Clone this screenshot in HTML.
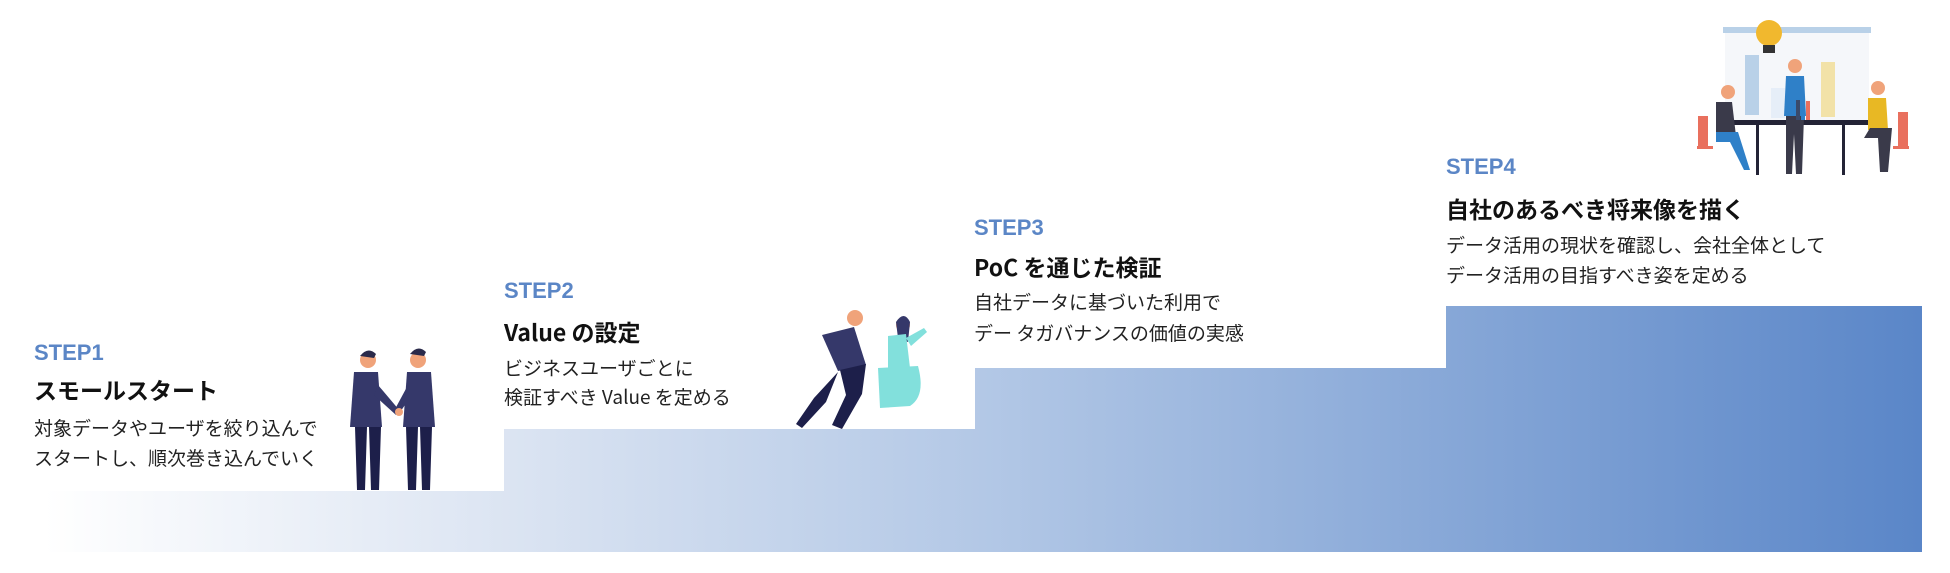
<!DOCTYPE html>
<html><head><meta charset="utf-8">
<style>
html,body{margin:0;padding:0;background:#fff}
#c{position:relative;width:1950px;height:573px;overflow:hidden;font-family:"Noto Sans CJK JP","Liberation Sans",sans-serif}
.t{position:absolute;white-space:nowrap}
.s{color:#5b86c6;font-weight:bold;font-size:22px;line-height:26px;font-family:"Liberation Sans",sans-serif}
.h{color:#111;font-weight:bold;font-size:23px;line-height:28px}
.b{color:#222;font-size:19px;line-height:30px}
</style></head><body><div id="c">
<svg width="1950" height="573" style="position:absolute;left:0;top:0">
<defs><linearGradient id="g" x1="44" y1="0" x2="1922" y2="0" gradientUnits="userSpaceOnUse">
<stop offset="0" stop-color="#ffffff"/><stop offset="0.25" stop-color="#dbe4f2"/><stop offset="0.5" stop-color="#b3c8e6"/><stop offset="1" stop-color="#5a86c8"/></linearGradient></defs>
<path d="M44 491 H504 V429 H975 V368 H1446 V306 H1922 V552 H44 Z" fill="url(#g)"/>
<g>
<circle cx="368" cy="360" r="8" fill="#f0a37a"/><path d="M360 356 q8 -10 16 -2 l-2 4 z" fill="#2a2a4a"/>
<path d="M354 372 h24 l4 55 h-32 z" fill="#35386a"/>
<path d="M355 427 h12 l-2 63 h-8 z M369 427 h12 l-2 63 h-8 z" fill="#1d1f4a"/>
<path d="M378 385 l22 26 l-4 4 l-22 -20 z" fill="#35386a"/>
<circle cx="418" cy="360" r="8" fill="#f0a37a"/><path d="M410 354 q8 -10 16 -2 l-2 4 z" fill="#2a2a4a"/>
<path d="M407 372 h24 l4 55 h-32 z" fill="#35386a"/>
<path d="M406 427 h12 l-2 63 h-8 z M420 427 h12 l-2 63 h-8 z" fill="#1d1f4a"/>
<path d="M408 385 l-14 26 l4 4 l14 -20 z" fill="#35386a"/>
<circle cx="399" cy="412" r="4" fill="#f0a37a"/>
</g>
<g>
<circle cx="855" cy="318" r="8" fill="#f0a37a"/>
<path d="M822 335 l32 -8 l12 38 l-28 6 z" fill="#35386a"/>
<path d="M840 370 l26 -6 l-4 30 l-20 35 l-10 -4 l14 -30 z M838 372 l-12 30 l-24 26 l-6 -4 l18 -26 z" fill="#1d1f4a"/>
<circle cx="903" cy="325" r="7" fill="#f0a37a"/><path d="M896 322 q8 -12 14 0 l-2 20 l-10 -4 z" fill="#35386a"/>
<path d="M888 336 l18 -2 l4 34 l-22 2 z" fill="#82e0dc"/>
<path d="M878 368 l40 -2 q8 30 -8 40 l-30 2 z" fill="#82e0dc"/>
<path d="M906 338 l18 -10 l3 4 l-16 14 z" fill="#82e0dc"/>
</g>
<g>
<rect x="1723" y="27" width="148" height="6" fill="#b9d1e8"/>
<rect x="1725" y="33" width="144" height="90" fill="#f5f7fa"/>
<rect x="1745" y="55" width="14" height="60" fill="#b9d1e8"/>
<rect x="1821" y="62" width="14" height="55" fill="#f2e2a8"/>
<rect x="1771" y="88" width="14" height="30" fill="#e6eef8"/>
<circle cx="1769" cy="33" r="13" fill="#f1b82e"/><rect x="1763" y="45" width="12" height="8" fill="#333"/>
<rect x="1730" y="120" width="140" height="5" fill="#232336"/>
<rect x="1756" y="125" width="3" height="50" fill="#232336"/><rect x="1842" y="125" width="3" height="50" fill="#232336"/>
<path d="M1698 116 h10 v30 h-10 z M1898 112 h10 v34 h-10 z" fill="#e9705e"/>
<rect x="1697" y="146" width="16" height="3" fill="#e9705e"/><rect x="1893" y="146" width="16" height="3" fill="#e9705e"/>
<circle cx="1728" cy="92" r="7" fill="#f0a37a"/><path d="M1716 102 h16 l4 34 h-20 z" fill="#3a3a4a"/>
<path d="M1716 132 h22 l12 38 h-6 l-14 -28 h-14 z" fill="#2f80c8"/>
<circle cx="1795" cy="66" r="7" fill="#f0a37a"/><path d="M1786 76 h18 l2 40 h-22 z" fill="#2f80c8"/>
<path d="M1786 116 h18 l-2 58 h-6 l-2 -40 l-2 40 h-6 z" fill="#3a3a4a"/>
<circle cx="1878" cy="88" r="7" fill="#f0a37a"/><path d="M1868 98 h18 l2 32 h-20 z" fill="#e8b824"/>
<path d="M1870 128 h22 l-4 44 h-8 l-2 -34 h-14 z" fill="#3a3a4a"/>
<rect x="1796" y="100" width="4" height="20" fill="#3a4a6a"/><rect x="1801" y="103" width="4" height="17" fill="#2f80c8"/><rect x="1806" y="101" width="4" height="19" fill="#e9705e"/>
</g>
</svg>
<div class="t s" style="left:34px;top:340px">STEP1</div>
<div class="t h" style="left:34px;top:375px">スモールスタート</div>
<div class="t b" style="left:34px;top:413px">対象データやユーザを絞り込んで</div>
<div class="t b" style="left:34px;top:443px">スタートし、順次巻き込んでいく</div>
<div class="t s" style="left:504px;top:278px">STEP2</div>
<div class="t h" style="left:504px;top:317px">Value の設定</div>
<div class="t b" style="left:504px;top:353px">ビジネスユーザごとに</div>
<div class="t b" style="left:504px;top:382px">検証すべき Value を定める</div>
<div class="t s" style="left:974px;top:215px">STEP3</div>
<div class="t h" style="left:974px;top:252px">PoC を通じた検証</div>
<div class="t b" style="left:974px;top:287px">自社データに基づいた利用で</div>
<div class="t b" style="left:974px;top:318px">デー タガバナンスの価値の実感</div>
<div class="t s" style="left:1446px;top:154px">STEP4</div>
<div class="t h" style="left:1446px;top:194px">自社のあるべき将来像を描く</div>
<div class="t b" style="left:1446px;top:230px">データ活用の現状を確認し、会社全体として</div>
<div class="t b" style="left:1446px;top:260px">データ活用の目指すべき姿を定める</div>
</div></body></html>
